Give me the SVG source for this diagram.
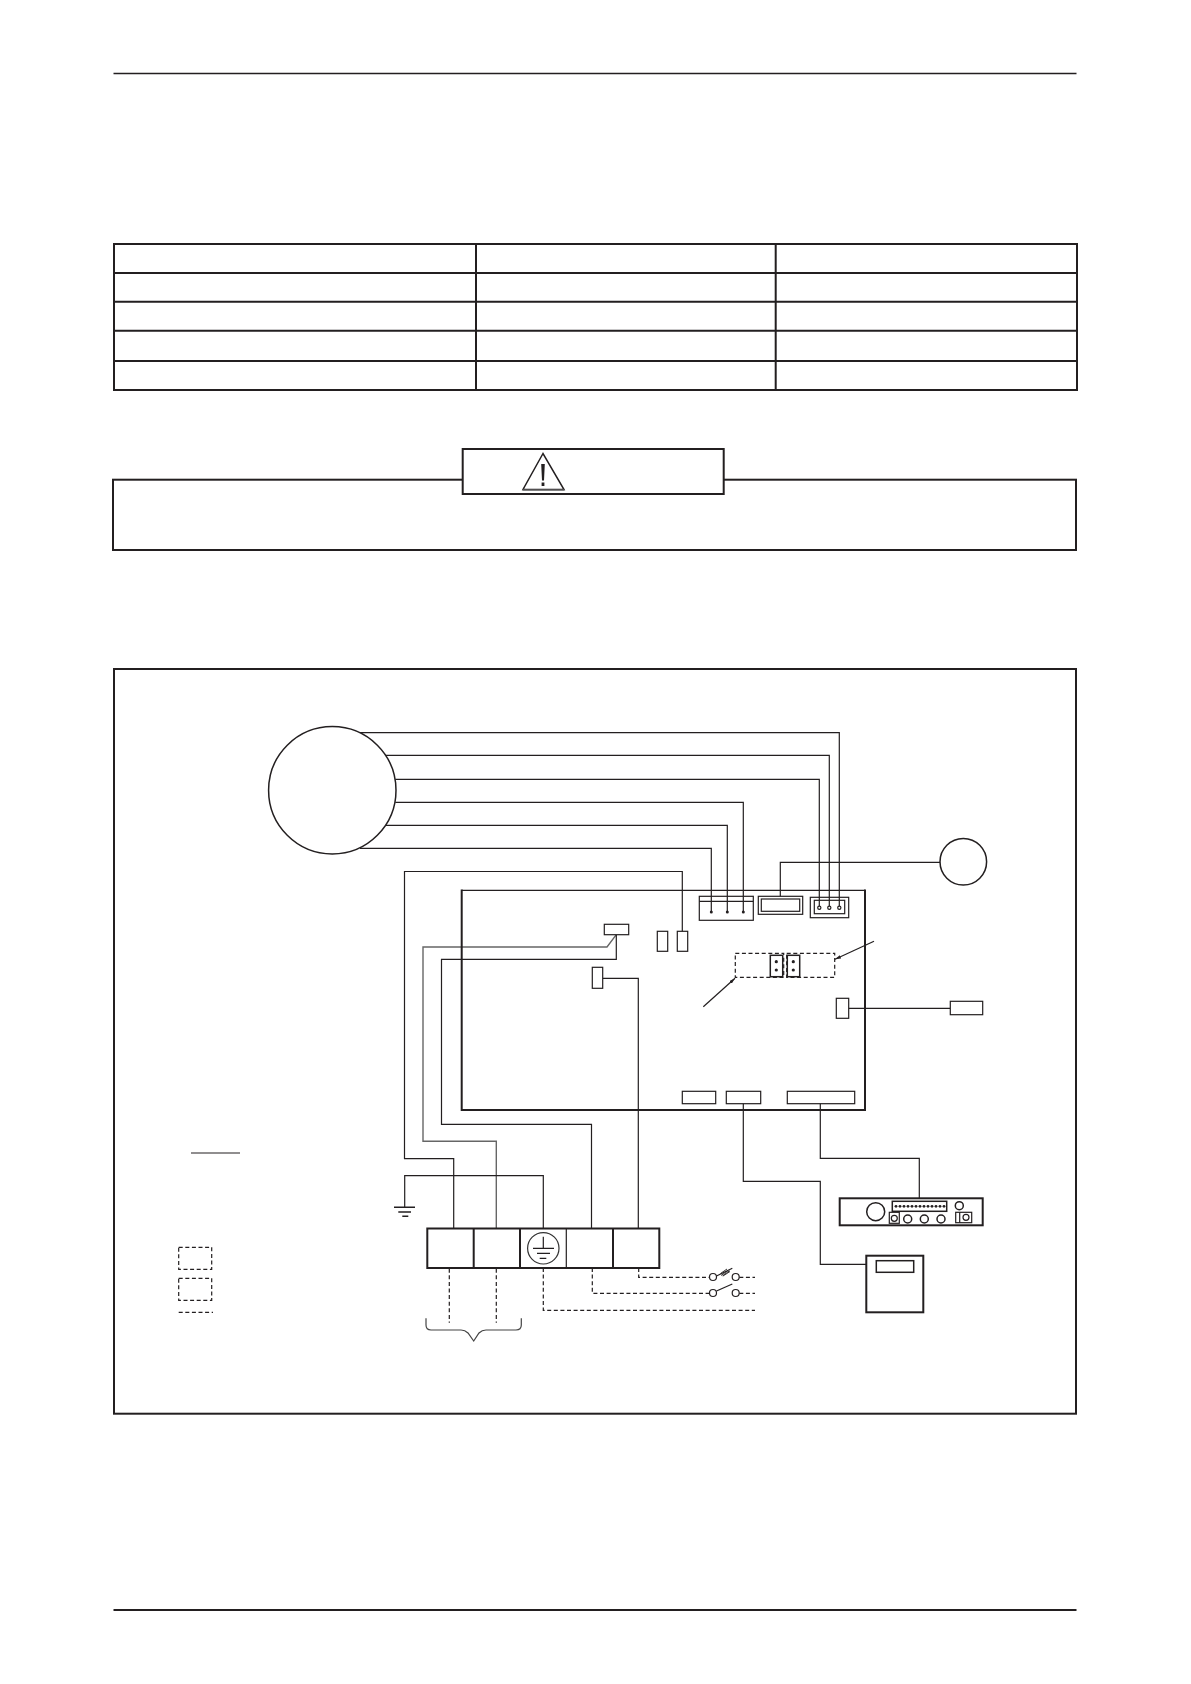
<svg xmlns="http://www.w3.org/2000/svg" width="1191" height="1684" viewBox="0 0 1191 1684">
<style>
rect,circle,path,line{fill:none;stroke:#231f20;stroke-width:1.2}
.t{stroke-width:2}
.m{stroke-width:1.5}
.w{stroke-width:1.2}
.g{stroke:#666;stroke-width:1.4}
.d{stroke-dasharray:4 2.6;stroke-width:1.2}
.p{fill:#231f20;stroke:none}
.b{fill:#fff}
</style>
<defs>
<marker id="arr" viewBox="0 0 10 6" refX="10" refY="3" markerWidth="6" markerHeight="4" orient="auto" markerUnits="userSpaceOnUse"><path d="M0 0L10 3L0 6Z" style="fill:#231f20;stroke:none"/></marker>
</defs>
<rect width="1191" height="1684" style="fill:#fff;stroke:none"/>

<g id="page-rules">
<line x1="113.5" y1="73.5" x2="1076.5" y2="73.5" style="stroke-width:1.3"/>
<line class="t" x1="113.5" y1="1610" x2="1076.5" y2="1610"/>
</g>

<g id="spec-table">
<rect class="t" x="114" y="244" width="963" height="146"/>
<path class="t" d="M114 273H1077M114 301.7H1077M114 330.7H1077M114 361H1077M476 244V390M775.7 244V390"/>
</g>

<g id="warning">
<rect class="t" x="113" y="479.7" width="963" height="70.3"/>
<rect class="t b" x="462.7" y="449" width="261" height="45"/>
<path class="m" d="M543 453.5L523 489.5H564Z"/>
<path class="p" d="M541.2 464H544.8L544 480.5H542ZM541.6 482.5H544.4V486H541.6Z"/>
<line class="m" x1="522.5" y1="490.3" x2="564.5" y2="490.3" style="stroke:#808080"/>
</g>

<g id="frame"><rect class="t" x="114" y="669" width="962" height="744.7"/></g>

<g id="connectors">
<path d="M360 732.7H839.3V907.7"/>
<path d="M385.7 755.3H829.3V907.7"/>
<path d="M395.3 779.3H819.3V907.7"/>
<path d="M395.3 802.3H743.3V912"/>
<path d="M385.7 825.3H727.3V912"/>
<path d="M360 848.3H711.3V912"/>
<path d="M682.3 931.3V871.5H404.5V1158.7H453.7V1228.3"/>
<path class="g" d="M616.3 934.7L607 947H423V1141.3H496.3V1228.3"/>
<path d="M616.3 934.7V959.3H441.5V1124.3H591.5V1228.3"/>
<path d="M602.7 978.3H638.3V1228.3"/>
<path d="M543.3 1228.3V1175.7H404.7V1207.3"/>
<path d="M780.3 896.3V862.3H940"/>
<path d="M848.7 1008.3H950.3"/>
<path d="M743.3 1103.7V1181.3H820.3V1264.3H866.3"/>
<path d="M820.3 1103.7V1158.3H919.3V1198.3"/>
<path class="d" d="M638.7 1268V1277.3H710M739.3 1277.3H755"/>
<path class="d" d="M592.3 1268V1293.3H710M739.3 1293.3H755"/>
<path class="d" d="M543.3 1268V1310.3H755"/>
<path class="d" d="M449.3 1268.7V1322.7"/>
<path class="d" d="M496.3 1268.7V1322.7"/>
<line x1="874" y1="941.3" x2="835" y2="959.3" marker-end="url(#arr)"/>
<line x1="703.3" y1="1006.7" x2="735" y2="978.3" marker-end="url(#arr)"/>
</g>

<g id="motor"><circle class="m b" cx="332.3" cy="790.3" r="63.7"/></g>
<g id="fan-motor"><circle class="m b" cx="963.3" cy="861.7" r="23.3"/></g>
<g id="board">
<path class="w" d="M461.7 890.3H865"/>
<path class="t" d="M461.7 889.5V1110H865V889.5"/>
</g>

<g id="conn-left3">
<rect x="699.3" y="896.3" width="54" height="24"/>
<line x1="699.3" y1="901.3" x2="753.3" y2="901.3"/>
<circle class="p" cx="711.3" cy="912" r="1.5"/><circle class="p" cx="727.3" cy="912" r="1.5"/><circle class="p" cx="743.3" cy="912" r="1.5"/>
</g>
<g id="conn-fan">
<rect x="758.3" y="896.3" width="44.4" height="18"/>
<rect x="761.3" y="899" width="38.4" height="12.3"/>
</g>
<g id="conn-right3">
<rect x="810.3" y="897.3" width="38.4" height="20.4"/>
<rect x="814.3" y="900.3" width="30.4" height="13.4"/>
<circle class="b" cx="819.3" cy="907.7" r="1.6"/><circle class="b" cx="829.3" cy="907.7" r="1.6"/><circle class="b" cx="839.3" cy="907.7" r="1.6"/>
</g>
<g id="conn-small"><rect class="b" x="604.3" y="924.3" width="24.4" height="10.4"/></g>
<g id="conn-mid"><rect class="b" x="592.3" y="967.3" width="10.4" height="21"/></g>
<g id="conn-a"><rect x="657.3" y="931.3" width="10.4" height="20"/></g>
<g id="conn-b"><rect x="677.3" y="931.3" width="10.4" height="20"/></g>
<g id="dip-switches">
<rect class="d" x="735.3" y="953.3" width="48.4" height="24"/>
<rect class="d" x="786.7" y="953.3" width="48" height="24"/>
<rect class="m b" x="770.3" y="955.3" width="12.4" height="21.4"/>
<rect class="m b" x="787.3" y="955.3" width="12.4" height="21.4"/>
<circle class="p" cx="776.3" cy="961.7" r="1.6"/><circle class="p" cx="776.3" cy="970" r="1.6"/>
<circle class="p" cx="793.3" cy="961.7" r="1.6"/><circle class="p" cx="793.3" cy="970" r="1.6"/>
</g>
<g id="conn-sensor"><rect class="b" x="836.3" y="998.3" width="12.4" height="20"/></g>
<g id="sensor"><rect class="b" x="950.3" y="1001.3" width="32.4" height="13.4"/></g>
<g id="conn-bottom">
<rect x="682.3" y="1091.3" width="33.4" height="12.4"/>
<rect x="726.3" y="1091.3" width="34.4" height="12.4"/>
<rect x="787.3" y="1091.3" width="67.4" height="12.4"/>
</g>

<g id="remote-panel">
<rect class="t b" x="839.7" y="1198.3" width="143" height="27"/>
<circle class="m" cx="875.7" cy="1211.7" r="9"/>
<rect class="m" x="892.3" y="1201.3" width="54.4" height="10"/>
<g class="pins">
<circle class="p" cx="896" cy="1206.3" r="1.4"/><circle class="p" cx="900" cy="1206.3" r="1.4"/><circle class="p" cx="904" cy="1206.3" r="1.4"/><circle class="p" cx="908" cy="1206.3" r="1.4"/><circle class="p" cx="912" cy="1206.3" r="1.4"/><circle class="p" cx="916" cy="1206.3" r="1.4"/><circle class="p" cx="920" cy="1206.3" r="1.4"/><circle class="p" cx="924" cy="1206.3" r="1.4"/><circle class="p" cx="928" cy="1206.3" r="1.4"/><circle class="p" cx="932" cy="1206.3" r="1.4"/><circle class="p" cx="936" cy="1206.3" r="1.4"/><circle class="p" cx="940" cy="1206.3" r="1.4"/><circle class="p" cx="944" cy="1206.3" r="1.4"/>
</g>
<circle class="m" cx="959.3" cy="1205.7" r="4"/>
<rect class="w" x="889.3" y="1212.3" width="10" height="11"/>
<circle class="w" cx="894.3" cy="1218.3" r="3"/>
<circle class="m" cx="907.7" cy="1219" r="4"/><circle class="m" cx="924.3" cy="1219" r="4"/><circle class="m" cx="941" cy="1219" r="4"/>
<rect class="w" x="955.7" y="1212.3" width="16" height="10.4"/>
<line x1="959.7" y1="1212.3" x2="959.7" y2="1222.7"/>
<circle class="w" cx="966" cy="1217.3" r="3"/>
</g>

<g id="control-box">
<rect class="t b" x="866.3" y="1255.7" width="57" height="56.6"/>
<rect class="m" x="876.3" y="1260.7" width="37.4" height="11.6"/>
</g>

<g id="terminal-block">
<rect class="t b" x="427.3" y="1228.5" width="232" height="39.5"/>
<path class="t" d="M473.7 1228.5V1268M520 1228.5V1268M613 1228.5V1268"/>
<line x1="566.3" y1="1228.5" x2="566.3" y2="1268"/>
<circle cx="543.3" cy="1248.3" r="15.7" style="stroke:#333"/>
<path d="M543.3 1236.7V1248.3M533 1248.3H554M537 1253.3H550M539.7 1258.3H546.3"/>
</g>

<g id="ground"><path class="m" d="M394 1207.3H415M398.3 1212H411M402.3 1216.3H408.3"/></g>

<g id="legend">
<line x1="191" y1="1153" x2="240" y2="1153"/>
<rect class="d" x="178.7" y="1247.3" width="33" height="22"/>
<rect class="d" x="178.7" y="1278.3" width="33" height="22"/>
<line class="d" x1="178.7" y1="1312.3" x2="213" y2="1312.3"/>
</g>

<g id="brace"><path d="M426 1318.3V1325Q426 1330 431 1330H461Q465 1330 468 1333L473.7 1341L479 1333Q482 1330 486 1330H516Q521.3 1330 521.3 1325V1318.3" style="stroke:#444"/></g>

<g id="switches">
<circle class="b" cx="713" cy="1277" r="3.5"/><circle class="b" cx="735.7" cy="1277" r="3.5"/>
<circle class="b" cx="713" cy="1293" r="3.5"/><circle class="b" cx="735.7" cy="1293" r="3.5"/>
<line x1="716.5" y1="1276" x2="732.3" y2="1268.3"/>
<line x1="716.5" y1="1291" x2="732.3" y2="1284"/>
<path d="M721 1275.5L728 1270.5M722.5 1275.8L729.5 1270.8M720.5 1273.5L727 1269M723 1276L730 1271.5" style="stroke-width:.9"/>
</g>
</svg>
